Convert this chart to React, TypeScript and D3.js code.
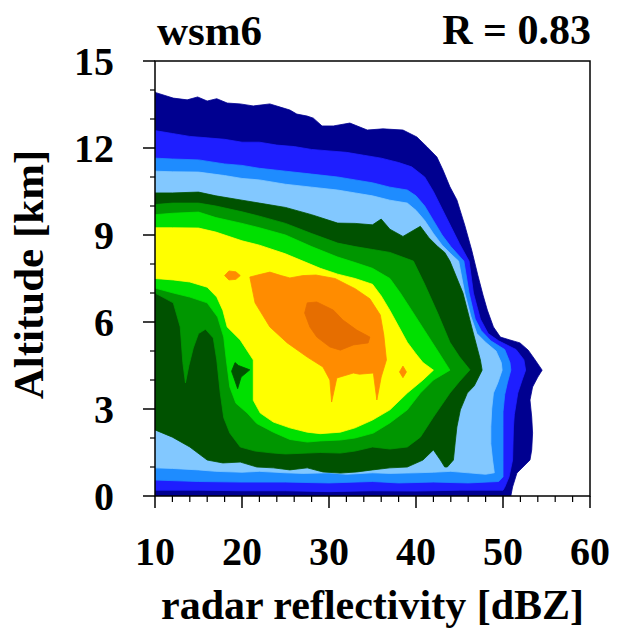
import React from 'react';
import * as d3 from 'd3';

type Pt = [number, number];

// Contour regions of the CFAD, [reflectivity dBZ, altitude km]
const level1Navy: Pt[] = [
  [10, 0], [10, 13.93], [10.2, 13.9], [12.1, 13.72], [13.7, 13.66], [14.9, 13.76], [16, 13.62], [17.1, 13.7],
  [18.3, 13.55], [19.8, 13.52], [21.3, 13.45], [23.2, 13.52], [24.4, 13.41], [25.5, 13.31], [26.3, 13.17],
  [27.5, 13.1], [28.2, 13.03], [29.2, 12.76], [30.5, 12.76], [32.4, 12.86], [34.4, 12.62], [36.2, 12.66],
  [38.5, 12.62], [40.1, 12.38], [41.3, 12.03], [42.4, 11.69], [43.1, 11.24], [43.9, 10.66], [44.7, 10.21],
  [45.6, 9.34], [46.4, 8.48], [47.1, 7.62], [47.7, 6.93], [48.2, 6.41], [48.9, 5.83], [49.7, 5.48],
  [50.8, 5.38], [51.95, 5.28], [52.9, 5.03], [53.7, 4.69], [54.5, 4.34], [54.0, 4.1], [53.4, 3.76],
  [53.1, 3.31], [53.3, 2.72], [53.4, 2.17], [53.3, 1.59], [53.1, 1.24], [52.3, 1.0], [51.6, 0.79],
  [51.1, 0.31], [50.9, 0]
];
const level2Blue: Pt[] = [
  [10, 12.6], [12, 12.5], [14, 12.4], [16, 12.35], [18, 12.3], [20, 12.2], [22, 12.2], [24, 12.1], [26, 12.05],
  [28, 11.95], [30, 11.9], [32, 11.85], [34, 11.75], [36, 11.65], [38, 11.5], [39.5, 11.35], [41, 11.0],
  [42, 10.5], [43, 9.9], [44, 9.3], [45, 8.7], [46.1, 8.1], [46.6, 7.0], [47.4, 6.1], [48.3, 5.6], [49.5, 5.35],
  [51.5, 5.05], [52.4, 4.7], [52.6, 4.34], [52.2, 4.0], [51.7, 3.55], [51.3, 2.8], [51.2, 2.38], [51.1, 1.24],
  [50.7, 0.66], [50.2, 0.3], [50, 0.2], [45, 0.2], [40, 0.17], [35, 0.18], [30, 0.15], [25, 0.18], [20, 0.18],
  [15, 0.2], [10, 0.2]
];
const level3MidBlue: Pt[] = [
  [10, 11.65], [12, 11.62], [15, 11.59], [18, 11.45], [20, 11.4], [22, 11.3], [25, 11.2], [28, 11.1], [31, 11.0],
  [33, 10.9], [35, 10.8], [37, 10.65], [39, 10.55], [40, 10.35], [41, 10.0], [42, 9.5], [43, 9.0], [44, 8.6],
  [45.5, 8.1], [46.1, 7.0], [46.8, 6.1], [47.5, 5.7], [48.6, 5.35], [50.2, 5.05], [50.8, 4.6], [50.9, 4.34],
  [50.5, 3.9], [50.2, 3.5], [50.0, 2.9], [50.0, 2.38], [50.0, 1.24], [50.0, 0.66], [49.5, 0.5], [46, 0.45],
  [42, 0.48], [38, 0.45], [35, 0.5], [30, 0.45], [25, 0.48], [20, 0.48], [15, 0.5], [10, 0.55]
];
const level4LightBlue: Pt[] = [
  [10, 11.2], [12, 11.18], [15, 11.17], [18, 11.05], [20, 10.95], [22, 10.9], [25, 10.75], [28, 10.65],
  [31, 10.55], [33, 10.45], [35, 10.35], [37, 10.2], [39, 10.1], [40, 9.85], [41, 9.5], [42, 9.05], [43, 8.65],
  [44, 8.35], [44.9, 8.1], [45.6, 7.0], [46.3, 6.2], [47.0, 5.6], [48, 5.3], [49.2, 5.0], [49.8, 4.6],
  [49.9, 4.34], [49.4, 3.9], [48.9, 3.55], [48.7, 3.0], [48.6, 2.38], [48.6, 1.8], [48.8, 1.24], [49.0, 0.8],
  [48, 0.75], [46, 0.8], [44, 0.85], [42, 0.82], [40, 0.8], [37, 0.78], [35, 0.8], [32, 0.75], [30, 0.8],
  [27, 0.78], [25, 0.8], [22, 0.85], [20, 0.82], [17, 0.85], [15, 0.9], [12, 0.95], [10, 0.97]
];
const level5DarkGreen: Pt[] = [
  [10, 10.45], [12, 10.45], [15, 10.48], [17, 10.35], [20, 10.2], [22, 10.1], [25, 9.95], [28, 9.7], [31, 9.41],
  [33, 9.4], [35, 9.35], [36, 9.55], [37, 9.2], [38.5, 8.95], [40.5, 9.3], [41.5, 8.9], [42.5, 8.6], [43.3, 8.4],
  [43.9, 8.1], [45.4, 7.0], [46.4, 5.83], [47.4, 4.69], [47.6, 4.34], [46.7, 3.8], [45.9, 3.55], [45.1, 2.97],
  [44.7, 2.38], [44.5, 1.83], [44.3, 1.24], [43.6, 1.0], [43.3, 1.0], [42.8, 1.24], [42, 1.59], [40.8, 1.24],
  [39, 1.0], [37, 0.97], [35, 0.9], [33.2, 0.83], [31.3, 0.79], [29.3, 0.83], [27.5, 0.97], [25.5, 0.9],
  [23.6, 0.97], [21.7, 1.0], [19.8, 1.17], [17.8, 1.14], [16, 1.24], [14, 1.69], [12, 2.03], [10, 2.28]
];
const level6Green: Pt[] = [
  [10, 10.05], [12, 10.1], [15, 10.1], [17, 10.0], [20, 9.8], [22, 9.65], [25, 9.4], [28, 9.05], [31, 8.72],
  [33, 8.6], [35, 8.5], [37, 8.4], [39.7, 8.1], [41, 7.3], [42.5, 6.3], [43.9, 5.3], [45, 4.8], [46.2, 4.35],
  [45, 3.95], [43.9, 3.55], [42, 2.72], [40.5, 2.03], [39, 1.69], [37, 1.62], [35, 1.69], [33, 1.55],
  [31.3, 1.48], [29, 1.5], [27.5, 1.48], [25, 1.45], [23.6, 1.48], [21.5, 1.55], [19.8, 1.69], [18.6, 2.17],
  [17.9, 2.7], [17.5, 3.55], [17.1, 4.69], [16.7, 5.45], [15.8, 5.75], [15.0, 5.6], [14.4, 5.1], [13.9, 4.5],
  [13.5, 3.9], [13.2, 4.6], [12.9, 5.83], [12.1, 6.66], [10, 7.0]
];
const level7LightGreen: Pt[] = [
  [10, 9.7], [12, 9.75], [15, 9.79], [17, 9.6], [20, 9.4], [22, 9.25], [25, 9.0], [28, 8.6], [31, 8.24],
  [33, 8.05], [35, 7.85], [37, 7.5], [38.2, 7.0], [39.5, 6.4], [41, 5.7], [42.5, 5.0], [43.9, 4.34], [42, 4.0],
  [40.5, 3.55], [39, 2.97], [37, 2.52], [35.1, 2.17], [33, 2.0], [31.3, 1.93], [29, 1.9], [27.5, 1.86],
  [25.5, 1.95], [23.6, 2.2], [21.7, 2.5], [20.6, 2.86], [19.3, 3.2], [18.6, 3.76], [18.2, 4.69], [17.9, 5.48],
  [17.2, 6.17], [16, 6.66], [14, 6.86], [12.1, 7.0], [10, 7.17]
];
const level8Yellow: Pt[] = [
  [10, 9.25], [12, 9.25], [15, 9.24], [17, 9.1], [20, 8.8], [22, 8.65], [25, 8.35], [27, 8.1], [29, 7.85],
  [31, 7.65], [33, 7.5], [35, 7.3], [36, 6.9], [37, 6.4], [38, 5.85], [39, 5.3], [40, 4.9], [40.8, 4.6],
  [42, 4.34], [40.8, 4.0], [39, 3.55], [37, 2.97], [35, 2.62], [33, 2.35], [31.3, 2.2], [29, 2.15], [27.5, 2.2],
  [25.5, 2.35], [23.6, 2.55], [22.1, 2.86], [21.3, 3.3], [21.3, 4.69], [19.8, 5.38], [18.3, 5.83], [17.8, 6.4],
  [17.1, 6.86], [16, 7.2], [14, 7.38], [12.1, 7.45], [10, 7.5]
];
const level9Orange: Pt[] = [
  [20.9, 7.55], [21.8, 7.62], [23.2, 7.72], [24.5, 7.6], [25.5, 7.52], [27, 7.6], [28.5, 7.62], [30.7, 7.5],
  [32, 7.3], [33, 7.15], [34.7, 6.8], [35.9, 6.24], [36.3, 5.55], [36.6, 4.69], [36, 4.1], [35.5, 3.31],
  [35.1, 4.24], [33.5, 4.2], [32.8, 4.24], [30.9, 4.07], [30.3, 3.24], [30.1, 4.0], [29.3, 4.45], [27.5, 4.79],
  [25.2, 5.28], [23.2, 5.83], [21.5, 6.66]
];
const level10DarkOrange: Pt[] = [
  [27.5, 6.66], [28.6, 6.69], [30.5, 6.41], [31.6, 6.07], [33.2, 5.72], [34.7, 5.48], [34.5, 5.28], [32.8, 5.21],
  [31.3, 5.03], [30.1, 5.14], [28.6, 5.48], [27.8, 5.83], [27.2, 6.31]
];
// small islands
const orangeIslandUpper: Pt[] = [[18.0, 7.6], [18.5, 7.76], [19.3, 7.73], [19.8, 7.6], [19.3, 7.47], [18.5, 7.45]];
const orangeIslandRight: Pt[] = [[38.1, 4.28], [38.5, 4.48], [38.9, 4.28], [38.5, 4.08]];
const darkGreenHole: Pt[] = [[18.8, 4.3], [19.2, 4.6], [19.6, 4.5], [20.9, 4.35], [19.9, 4.1], [19.5, 3.7], [19.1, 4.05]];

const levelColors = ['#000090', '#1e1eff', '#1e8cff', '#82c8ff', '#005200', '#009600', '#00e000', '#ffff00', '#ff8c00', '#e66e00'];

const xTicks = [10, 20, 30, 40, 50, 60];
const yTicks = [0, 3, 6, 9, 12, 15];
const xMinor = d3.range(10, 61, 2).filter((v) => v % 10 !== 0);
const yMinor = d3.range(0, 16, 1).filter((v) => v % 3 !== 0);

const modelName = 'wsm6';
const correlation = 'R = 0.83';

export default function App() {
  const x = d3.scaleLinear().domain([10, 60]).range([155, 590]);
  const y = d3.scaleLinear().domain([0, 15]).range([496, 61]);
  const line = d3.line<Pt>().x((d) => x(d[0])).y((d) => y(d[1])).curve(d3.curveLinearClosed);

  const regions: { pts: Pt[]; color: string }[] = [
    { pts: level1Navy, color: levelColors[0] },
    { pts: level2Blue, color: levelColors[1] },
    { pts: level3MidBlue, color: levelColors[2] },
    { pts: level4LightBlue, color: levelColors[3] },
    { pts: level5DarkGreen, color: levelColors[4] },
    { pts: level6Green, color: levelColors[5] },
    { pts: level7LightGreen, color: levelColors[6] },
    { pts: darkGreenHole, color: levelColors[4] },
    { pts: level8Yellow, color: levelColors[7] },
    { pts: level9Orange, color: levelColors[8] },
    { pts: orangeIslandUpper, color: levelColors[8] },
    { pts: orangeIslandRight, color: levelColors[8] },
    { pts: level10DarkOrange, color: levelColors[9] },
  ];

  const font = "'Liberation Serif', 'Times New Roman', serif";
  const [x0, x1] = x.range();
  const [y0, y1] = y.range();

  return (
    <svg width={617} height={630} style={{ position: 'absolute', left: 0, top: 0, background: '#fff' }}
      fontFamily={font} fontWeight="bold">
      <defs>
        <clipPath id="plotClip">
          <rect x={x0} y={y1} width={x1 - x0} height={y0 - y1} />
        </clipPath>
      </defs>
      <g clipPath="url(#plotClip)">
        {regions.map((r, i) => (
          <path key={i} d={line(r.pts) || ''} fill={r.color} stroke={r.color} strokeWidth={0.8} strokeLinejoin="round" />
        ))}
      </g>
      <rect x={x0} y={y1} width={x1 - x0} height={y0 - y1} fill="none" stroke="#000" strokeWidth={1.5} />
      {yTicks.map((t) => (
        <g key={'yt' + t}>
          <line x1={x0 - 12} x2={x0} y1={y(t)} y2={y(t)} stroke="#000" strokeWidth={1.5} />
          <text x={114} y={y(t) + 14} textAnchor="end" fontSize={40}>{t}</text>
        </g>
      ))}
      {yMinor.map((t) => (
        <line key={'ym' + t} x1={x0 - 5} x2={x0} y1={y(t)} y2={y(t)} stroke="#000" strokeWidth={1.2} />
      ))}
      {xTicks.map((t) => (
        <g key={'xt' + t}>
          <line x1={x(t)} x2={x(t)} y1={y0} y2={y0 + 12} stroke="#000" strokeWidth={1.5} />
          <text x={x(t)} y={565} textAnchor="middle" fontSize={40}>{t}</text>
        </g>
      ))}
      {xMinor.map((t) => (
        <line key={'xm' + t} x1={x(t)} x2={x(t)} y1={y0} y2={y0 + 6} stroke="#000" strokeWidth={1.2} />
      ))}
      <text x={157} y={45} fontSize={43}>{modelName}</text>
      <text x={591} y={44} fontSize={42} textAnchor="end">{correlation}</text>
      <text x={(x0 + x1) / 2} y={619} fontSize={42} textAnchor="middle">radar reflectivity [dBZ]</text>
      <text transform={`translate(43, ${(y0 + y1) / 2 - 4}) rotate(-90)`} fontSize={43} textAnchor="middle">Altitude [km]</text>
    </svg>
  );
}
